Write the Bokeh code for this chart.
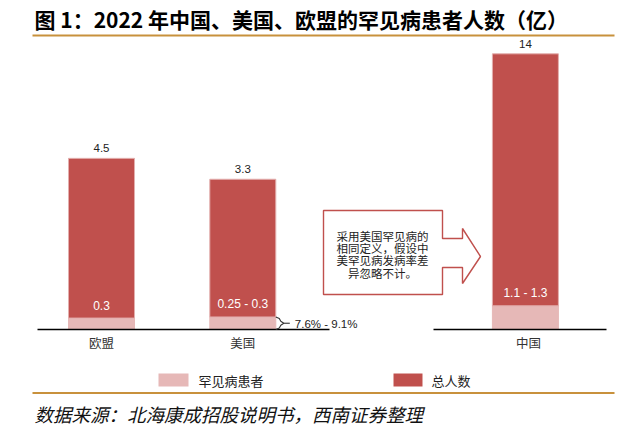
import numpy as np
from bokeh.plotting import figure
from bokeh.models import Range1d
from bokeh.core.properties import value
from bokeh.embed import file_html
from bokeh.resources import INLINE

# ---------------- data ----------------
regions = ["欧盟", "美国", "中国"]
total = [4.5, 3.3, 14]
total_labels = ["4.5", "3.3", "14"]
rare_low = [0.3, 0.25, 1.1]
rare_high = [0.3, 0.3, 1.3]
rare_labels = ["0.3", "0.25 - 0.3", "1.1 - 1.3"]
us_share_label = "7.6% - 9.1%"
legend_labels = ["罕见病患者", "总人数"]
title_text = "图 1：2022 年中国、美国、欧盟的罕见病患者人数（亿）"
source_text = "数据来源：北海康成招股说明书，西南证券整理"
note_lines = ["采用美国罕见病的", "相同定义，假设中", "美罕见病发病率差", "异忽略不计。"]

# ---------------- style / layout ----------------
RED = "#C0504D"
PINK = "#E6B8B7"
GOLD = "#C8913C"
CJK = value("Noto Sans CJK SC")
LAT = value("Liberation Sans")

W, H = 632, 430
TOP_PX, BOT_PX = 0, H             # page pixel span of the canvas
BASE_Y = 329                      # baseline (page px)
K = 91.0                          # px per compressed unit
POW = 0.42                        # schematic (compressed) bar scale
slots = np.array([0, 1, 3])
X0, STEP, BAR_W = 101, 141.3, 66

tot = np.array(total, dtype=float)
rare_mid = (np.array(rare_low) + np.array(rare_high)) / 2
tot_t = tot ** POW
rare_t = tot_t * rare_mid / tot
centers = X0 + STEP * slots

p = figure(width=W, height=H, x_range=Range1d(0, W),
           y_range=Range1d(-(BOT_PX - BASE_Y) / K, (BASE_Y - TOP_PX) / K),
           output_backend="svg", toolbar_location=None, min_border=0,
           x_axis_location=None, y_axis_location=None)
p.extra_y_ranges = {"px": Range1d(BOT_PX, TOP_PX)}
p.grid.visible = False
p.outline_line_color = None
p.background_fill_color = "white"

# bars
p.vbar(x=centers, width=BAR_W, bottom=0, top=rare_t,
       fill_color=PINK, line_color=PINK, line_width=1)
p.vbar(x=centers, width=BAR_W, bottom=rare_t, top=tot_t,
       fill_color=RED, line_color="#E3AFAE", line_width=1)

# value labels
p.text(x=centers, y=tot_t, text=total_labels, y_offset=-10,
       text_align="center", text_baseline="middle",
       text_font=LAT, text_font_size="11.5px", text_color="#222222")
p.text(x=centers, y=rare_t, text=rare_labels, y_offset=-12.5,
       text_align="center", text_baseline="middle",
       text_font=LAT, text_font_size="12px", text_color="white")

# baselines
p.segment(x0=[37, 433], y0=[BASE_Y, BASE_Y], x1=[329, 606], y1=[BASE_Y, BASE_Y],
          line_color="black", line_width=1.6, y_range_name="px")

# category labels
p.text(x=centers + np.array([0, 0, 3]), y=[BASE_Y + 13] * 3, text=regions,
       text_align="center", text_baseline="middle", y_range_name="px",
       text_font=CJK, text_font_size="12.5px", text_color="#333333")

# brace next to US rare segment
xr = centers[1] + BAR_W / 2
ytop = BASE_Y - K * rare_t[1]
ybot = BASE_Y
ymid = (ytop + ybot) / 2
bx = [xr, xr + 3.5, xr + 5, xr + 8, xr + 5, xr + 3.5, xr]
by = [ytop, ytop + 1.5, ymid - 2, ymid, ymid + 2, ybot - 1.5, ybot]
p.line(bx, by, line_color="#333333", line_width=1.1, y_range_name="px")
p.line([xr + 8, xr + 14], [ymid, ymid], line_color="#333333", line_width=1.1, y_range_name="px")
p.text(x=[xr + 19], y=[ymid + 1], text=[us_share_label], text_align="left",
       text_baseline="middle", y_range_name="px",
       text_font=LAT, text_font_size="11.5px", text_color="#222222")

# callout arrow
cx = [323, 442, 442, 462, 462, 480, 462, 462, 442, 442, 323]
cy = [210, 210, 238, 238, 228, 256, 283, 267, 267, 294, 294]
p.patch(cx, cy, fill_color="white", line_color=RED, line_width=1.4, y_range_name="px")
p.text(x=[382] * 4, y=[235, 247.5, 259.5, 272], text=note_lines,
       text_align="center", text_baseline="middle", y_range_name="px",
       text_font=CJK, text_font_size="11.5px", text_color="#222222")

# legend
p.quad(left=[158, 393], right=[188, 422], top=[373, 373], bottom=[386, 386],
       fill_color=[PINK, RED], line_color=None, y_range_name="px")
p.text(x=[198, 431], y=[380, 380], text=legend_labels, text_align="left",
       text_baseline="middle", y_range_name="px",
       text_font=CJK, text_font_size="13px", text_color="#222222")

# title, rules, source
p.text(x=[34], y=[18], text=[title_text], text_align="left", text_baseline="middle",
       y_range_name="px", text_font=CJK, text_font_size="21px",
       text_font_style="bold", text_color="black")
p.segment(x0=[32, 32], y0=[35, 392.5], x1=[614, 614], y1=[35, 392.5],
          line_color=GOLD, line_width=2.2, y_range_name="px")
p.text(x=[34], y=[413], text=[source_text], text_align="left", text_baseline="middle",
       y_range_name="px", text_font=CJK, text_font_size="18.5px",
       text_font_style="italic", text_color="#111111")

open("out.html", "w").write(file_html(p, INLINE))
